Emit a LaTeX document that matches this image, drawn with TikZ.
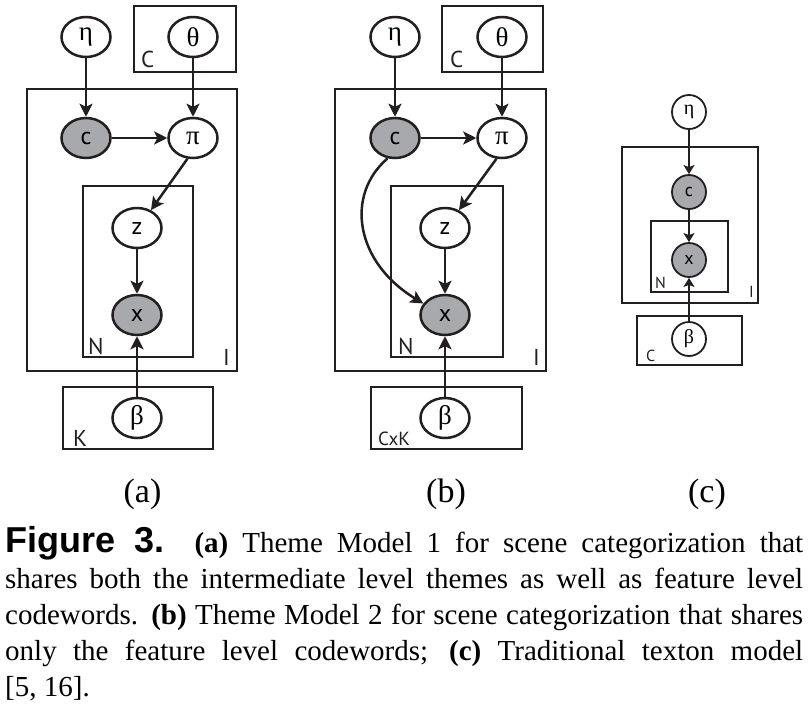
\documentclass[tikz,border=0pt]{standalone}
\usepackage{fontspec}
\setmainfont{Liberation Serif}
\newfontfamily\capsans{Liberation Sans}
\newfontfamily\lblfont{PT Sans}
\usetikzlibrary{arrows.meta,shapes.geometric}
\definecolor{ink}{RGB}{35,31,32}
\definecolor{obsgray}{RGB}{167,169,172}
\tikzset{
  var/.style={ellipse, draw=ink, line width=2.5pt, minimum width=49pt, minimum height=40pt, inner sep=0pt, fill=white},
  obs/.style={var, fill=obsgray},
  plate/.style={draw=ink, line width=2.5pt},
  arr/.style={draw=ink, line width=2.5pt, -{Stealth[length=13pt,width=13pt,inset=3pt]}},
  grk/.style={font=\fontsize{27}{27}\selectfont},
  sans/.style={font=\lblfont\fontsize{24}{24}\selectfont},
  plabel/.style={font=\lblfont\fontsize{23}{23}\selectfont, inner sep=0pt, anchor=base west, text=ink},
  varc/.style={circle, draw=ink, line width=1.8pt, minimum size=34pt, inner sep=0pt, fill=white},
  obsc/.style={varc, fill=obsgray},
  platec/.style={draw=ink, line width=1.8pt},
  arrc/.style={draw=ink, line width=1.8pt, -{Stealth[length=9pt,width=11pt,inset=2pt]}},
  grkc/.style={font=\fontsize{20}{20}\selectfont},
  sansc/.style={font=\lblfont\fontsize{18}{18}\selectfont},
  plabelc/.style={font=\lblfont\fontsize{16}{16}\selectfont, inner sep=0pt, anchor=base west, text=ink},
  panel/.style={font=\fontsize{34}{34}\selectfont, inner sep=0pt, anchor=base}
}
\begin{document}
\begin{tikzpicture}[x=1pt,y=-1pt]
\useasboundingbox[fill=white] (0,0) rectangle (808,705);

% ---------------- panel (a)
\draw[plate] (134,6) rectangle (236,72);
\draw[plate] (27,89) rectangle (237,371);
\draw[plate] (83,186) rectangle (193,357);
\draw[plate] (63,387) rectangle (213,449);
\node[var,grk] (etaA) at (86,37) {η};
\node[var,grk] (thetaA) at (193,37) {θ};
\node[obs,sans] (cA) at (86,138) {c};
\node[var,grk] (piA) at (193,138) {π};
\node[var,sans] (zA) at (137,228) {z};
\node[obs,sans] (xA) at (137,315) {x};
\node[var,grk] (betaA) at (137,418) {β};
\node[plabel] (lCA) at (141,67) {C};
\node[plabel] (lNA) at (88,354) {N};
\node[plabel] (lIA) at (223,365) {I};
\node[plabel] (lKA) at (73,446) {K};
\draw[arr] (etaA) -- (cA);
\draw[arr] (thetaA) -- (piA);
\draw[arr] (cA) -- (piA);
\draw[arr] (piA.255) -- (zA.52);
\draw[arr] (zA) -- (xA);
\draw[arr] (betaA) -- (xA);

% ---------------- panel (b)
\draw[plate] (442,6) rectangle (543,72);
\draw[plate] (335,89) rectangle (546,371);
\draw[plate] (391,186) rectangle (503,357);
\draw[plate] (371,387) rectangle (522,449);
\node[var,grk] (etaB) at (395,37) {η};
\node[var,grk] (thetaB) at (502,37) {θ};
\node[obs,sans] (cB) at (395,138) {c};
\node[var,grk] (piB) at (502,138) {π};
\node[var,sans] (zB) at (445,228) {z};
\node[obs,sans] (xB) at (445,315) {x};
\node[var,grk] (betaB) at (445,418) {β};
\node[plabel] (lCB) at (450,67) {C};
\node[plabel] (lNB) at (398,354) {N};
\node[plabel] (lIB) at (533,365) {I};
\node[plabel, font=\lblfont\fontsize{19}{19}\selectfont] (lKB) at (378,445) {CxK};
\draw[arr] (etaB) -- (cB);
\draw[arr] (thetaB) -- (piB);
\draw[arr] (cB) -- (piB);
\draw[arr] (piB.255) -- (zB.52);
\draw[arr] (zB) -- (xB);
\draw[arr] (betaB) -- (xB);
\draw[arr] (cB.250) .. controls (345,195) and (355,262) .. (xB.152);

% ---------------- panel (c)
\draw[platec] (622,147) rectangle (758,303);
\draw[platec] (651,221) rectangle (728,292);
\draw[platec] (637,316) rectangle (742,365);
\node[varc,grkc] (etaC) at (689,112) {η};
\node[obsc,sansc] (cC) at (689,192) {c};
\node[obsc,sansc] (xC) at (689,260) {x};
\node[varc,grkc] (betaC) at (689,339) {β};
\node[plabelc] (lNC) at (655,288) {N};
\node[plabelc] (lIC) at (749,297) {I};
\node[plabelc] (lCC) at (646,361) {C};
\draw[arrc] (etaC) -- (cC);
\draw[arrc] (cC) -- (xC);
\draw[arrc] (betaC) -- (xC);

% ---------------- sub-captions
\node[panel] (pa) at (142.5,502) {(a)};
\node[panel] (pb) at (446,502) {(b)};
\node[panel] (pc) at (707,502) {(c)};

% ---------------- caption
\node[anchor=base west, inner sep=0pt] (cap) at (5,552) {\parbox[t]{798pt}{%
\fontsize{29pt}{36pt}\selectfont\tolerance=10000\hyphenpenalty=10000\emergencystretch=20pt\noindent
{\capsans\bfseries\fontsize{36pt}{36pt}\selectfont Figure 3.} \textbf{(a)} Theme Model 1 for scene categorization that\linebreak
shares both the intermediate level themes as well as feature level\linebreak
codewords. \textbf{(b)} Theme Model 2 for scene categorization that shares\linebreak
only the feature level codewords; \textbf{(c)} Traditional texton model\linebreak
{[}5, 16].}};
\end{tikzpicture}
\end{document}
